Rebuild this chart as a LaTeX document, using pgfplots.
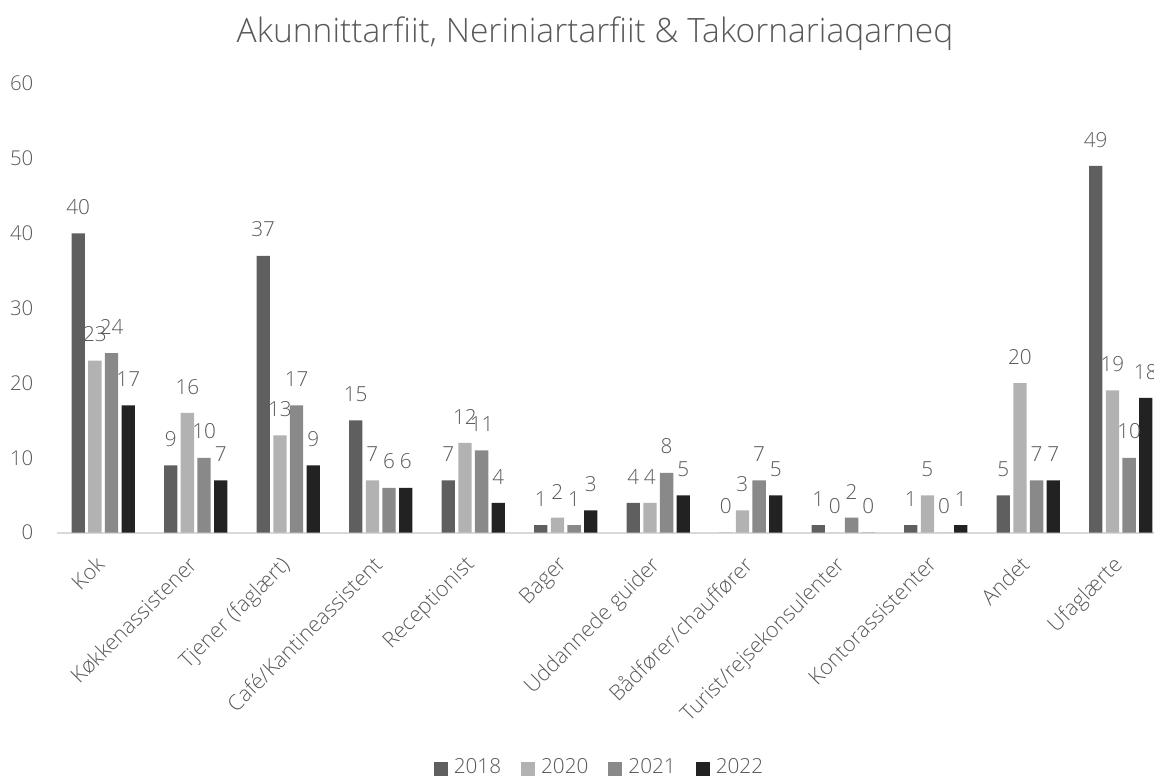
\documentclass[border=0pt]{standalone}
\usepackage{fontspec}
\IfFontExistsTF{Open Sans Light}{\setmainfont{Open Sans Light}}{\setmainfont{Open Sans}}
\usepackage{pgfplots}
\pgfplotsset{compat=1.18}
\usepackage{pgfplotstable}

\definecolor{txt}{HTML}{595959}
\definecolor{c18}{HTML}{5F5F5F}
\definecolor{c20}{HTML}{B2B2B2}
\definecolor{c21}{HTML}{898989}
\definecolor{c22}{HTML}{222222}

\pgfplotstableread{
x  y2018 y2020 y2021 y2022
0  40 23 24 17
1  9  16 10 7
2  37 13 17 9
3  15 7  6  6
4  7  12 11 4
5  1  2  1  3
6  4  4  8  5
7  0  3  7  5
8  1  0  2  0
9  1  5  0  1
10 5  20 7  7
11 49 19 10 18
}\jobs

\begin{document}
\begin{tikzpicture}
\begin{axis}[
  scale only axis,
  width=11.10cm, height=4.491cm,
  xmin=-0.5, xmax=11.5, ymin=0, ymax=60,
  ybar=0.034cm, bar width=0.133cm,
  axis x line*=bottom, axis y line*=left,
  x axis line style={draw=black!15, line width=0.6pt},
  y axis line style={draw=none},
  major tick length=0pt,
  ytick={0,10,...,60},
  xtick=data,
  xticklabels={Kok,Køkkenassistener,Tjener (faglært),Café/Kantineassistent,Receptionist,Bager,Uddannede guider,Bådfører/chauffører,Turist/rejsekonsulenter,Kontorassistenter,Andet,Ufaglærte},
  tick label style={font=\fontsize{5.8}{7}\selectfont, text=txt},
  x tick label style={yshift=-0.21cm, xshift=-0.09cm, rotate=45, anchor=north east, inner sep=0pt, font=\fontsize{6.1}{7}\selectfont},
  y tick label style={anchor=east, inner sep=0pt, xshift=-0.23cm},
  /pgf/number format/assume math mode=true,
  nodes near coords,
  every node near coord/.append style={font=\fontsize{5.9}{7}\selectfont, text=txt, anchor=south, inner sep=0pt, yshift=0.18cm},
  title={Akunnittarfiit, Neriniartarfiit \& Takornariaqarneq},
  title style={font=\fontsize{9.55}{11}\selectfont, text=txt, at={(0.4847,1.0450)}, anchor=base},
  legend columns=4,
  legend style={at={(0.4878,-0.526)}, anchor=center, draw=none, inner sep=0pt,
    font=\fontsize{5.9}{7}\selectfont, text=txt,
    nodes={inner sep=0pt}, column sep=0.06cm,
    /tikz/every even column/.append style={column sep=0.2cm}},
  legend image code/.code={\fill[#1] (0cm,-0.07cm) rectangle (0.14cm,0.07cm);},
]
\addplot[fill=c18, draw=none] table[x=x, y=y2018] {\jobs};
\addplot[fill=c20, draw=none] table[x=x, y=y2020] {\jobs};
\addplot[fill=c21, draw=none] table[x=x, y=y2021] {\jobs};
\addplot[fill=c22, draw=none] table[x=x, y=y2022] {\jobs};
\legend{2018,2020,2021,2022}
\end{axis}
\pgfresetboundingbox
\path[use as bounding box] (-0.57cm,-2.433cm) rectangle (10.97cm,5.327cm);
\end{tikzpicture}
\end{document}
